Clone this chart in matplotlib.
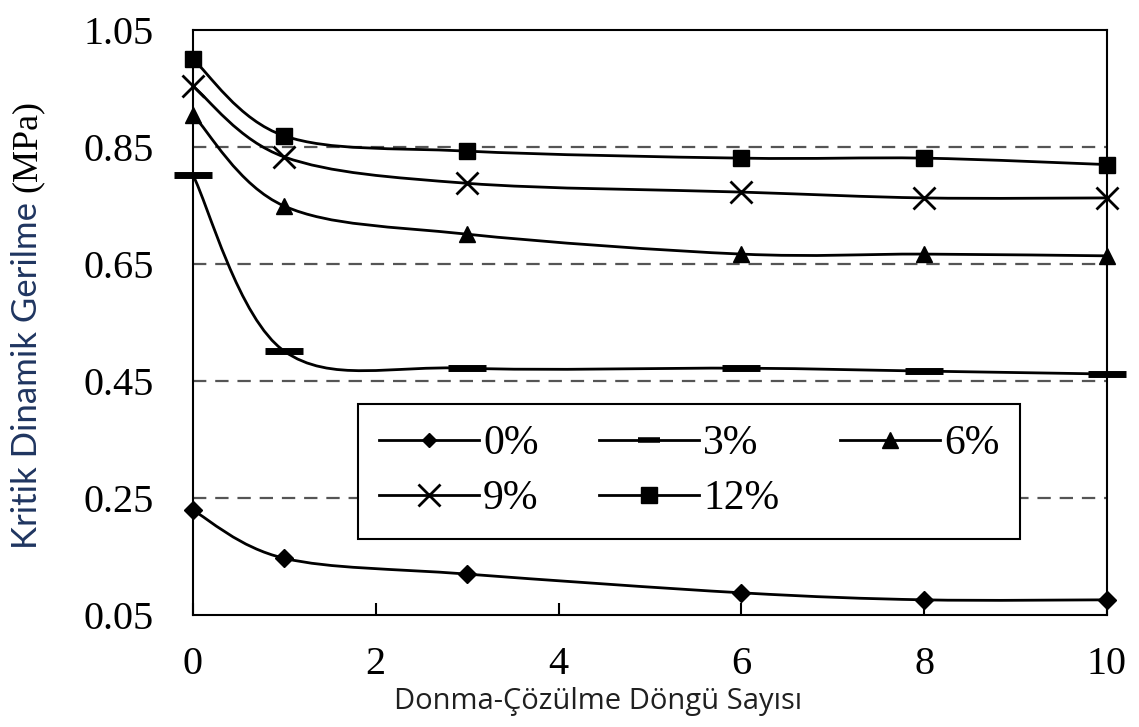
import numpy as np
import matplotlib
matplotlib.use('Agg')
import matplotlib.pyplot as plt
from matplotlib.path import Path
from matplotlib.patches import PathPatch
from matplotlib.lines import Line2D

# Freeze-thaw cycles and critical dynamic stress (MPa)
cycles = [0, 1, 3, 6, 8, 10]
series_labels = ['0%', '3%', '6%', '9%', '12%']
stress_0 = [0.229, 0.147, 0.120, 0.088, 0.076, 0.076]
stress_3 = [0.802, 0.501, 0.472, 0.472, 0.467, 0.462]
stress_6 = [0.905, 0.749, 0.701, 0.667, 0.667, 0.664]
stress_9 = [0.954, 0.833, 0.788, 0.773, 0.763, 0.763]
stress_12 = [1.000, 0.869, 0.843, 0.831, 0.831, 0.820]
grid_levels = [0.25, 0.45, 0.65, 0.85]

series = [stress_0, stress_3, stress_6, stress_9, stress_12]
styles = [
    dict(marker='D', markersize=9, markeredgewidth=1),
    dict(marker='_', markersize=27, markeredgewidth=5),
    dict(marker='^', markersize=12, markeredgewidth=1),
    dict(marker='x', markersize=16, markeredgewidth=2),
    dict(marker='s', markersize=12, markeredgewidth=1),
]


def smooth_path(xs, ys):
    # Excel-like smoothed line: Catmull-Rom segments as cubic Beziers
    pts = np.column_stack([xs, ys]).astype(float)
    n = len(pts)
    verts = [pts[0]]
    codes = [Path.MOVETO]
    for i in range(n - 1):
        p0 = pts[max(i - 1, 0)]
        p1 = pts[i]
        p2 = pts[i + 1]
        p3 = pts[min(i + 2, n - 1)]
        c1 = p1 + (p2 - p0) / 6.0
        c2 = p2 - (p3 - p1) / 6.0
        verts += [c1, c2, p2]
        codes += [Path.CURVE4] * 3
    return Path(verts, codes)


fig = plt.figure(figsize=(11.39, 7.27), dpi=100)
ax = fig.add_axes([0.1694, 0.154, 0.8025, 0.8047])

for lvl in grid_levels:
    ax.axhline(lvl, color='#555555', linewidth=1.6, dashes=(6, 4), zorder=1)

handles = {}
for ys, st, lab in zip(series, styles, series_labels):
    patch = PathPatch(smooth_path(cycles, ys), facecolor='none',
                      edgecolor='black', linewidth=2, zorder=3)
    ax.add_patch(patch)
    ax.plot(cycles, ys, linestyle='none', color='black',
            markerfacecolor='black', markeredgecolor='black',
            clip_on=False, zorder=4, **st)
    leg_st = dict(st)
    if lab == '3%':
        leg_st['markersize'] = 16
        leg_st['markeredgewidth'] = 4
    if lab == '0%':
        leg_st['markersize'] = 7
    handles[lab] = Line2D([], [], color='black', linewidth=2,
                          markerfacecolor='black', markeredgecolor='black',
                          label=lab, **leg_st)

ax.set_xlim(0, 10)
ax.set_ylim(0.05, 1.05)
ax.set_xticks(np.arange(0, 11, 2))
ax.set_yticks(np.arange(0.05, 1.06, 0.2))
ax.set_yticklabels(['%.2f' % v for v in np.arange(0.05, 1.06, 0.2)])
for lab in ax.get_xticklabels() + ax.get_yticklabels():
    lab.set_fontfamily('Liberation Serif')
    lab.set_fontsize(29)
ax.tick_params(axis='x', direction='in', length=9, width=1.5, pad=22)
ax.tick_params(axis='y', direction='in', length=0, width=1.5, pad=28)
for sp in ax.spines.values():
    sp.set_linewidth(1.5)

# legend filled column-wise, so order gives rows 0/3/6 and 9/12
leg_order = ['0%', '9%', '3%', '12%', '6%']
leg = ax.legend(handles=[handles[k] for k in leg_order], ncol=3, loc='center',
                bbox_to_anchor=(0.5427, 0.2453), frameon=True, fancybox=False,
                handlelength=2.4, handletextpad=0.1, columnspacing=1.45,
                labelspacing=0.4, borderpad=0.5, borderaxespad=0,
                prop={'family': 'Liberation Serif', 'size': 30})
leg.get_frame().set_edgecolor('black')
leg.get_frame().set_linewidth(1.5)
leg.get_frame().set_alpha(1)
leg.set_zorder(5)

# y label: sans part and serif unit
fig.text(0.024, 0.484, 'Kritik Dinamik Gerilme', rotation=90, ha='center',
         va='center', family='Lato', fontsize=25, color='#1f3560')
fig.text(0.024, 0.799, '(MPa)', rotation=90, ha='center', va='center',
         family='Liberation Serif', fontsize=26, color='black')

fig.text(0.525, 0.035, 'Donma-Çözülme Döngü Sayısı', ha='center', va='center',
         family='Open Sans', fontsize=21, color='#202020')

fig.savefig('out.png', dpi=100)
